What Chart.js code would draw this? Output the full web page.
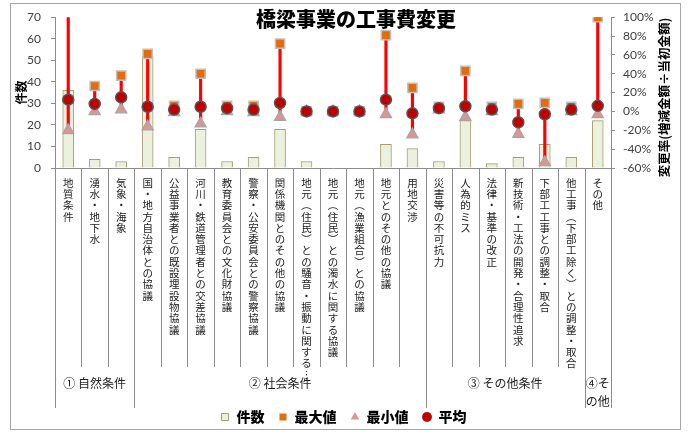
<!DOCTYPE html>
<html lang="ja">
<head>
<meta charset="utf-8">
<title>橋梁事業の工事費変更</title>
<script src="https://cdn.jsdelivr.net/npm/chart.js@4.4.1/dist/chart.umd.min.js"></script>
<style>
  html, body { margin: 0; padding: 0; background: #fff; }
  #wrap { width: 688px; height: 432px; position: relative; }
</style>
</head>
<body>
<div id="wrap"><canvas id="chart"></canvas></div>
<script>
// 変更理由（カテゴリ）
const categories = [
  '地質条件', '湧水・地下水', '気象・海象',
  '国・地方自治体との協議', '公益事業者との既設埋設物協議', '河川・鉄道管理者との交差協議',
  '教育委員会との文化財協議', '警察・公安委員会との警察協議', '関係機関とのその他の協議',
  '地元（住民）との騒音・振動に関する…', '地元（住民）との濁水に関する協議', '地元（漁業組合）との協議',
  '地元とのその他の協議', '用地交渉',
  '災害等の不可抗力', '人為的ミス', '法律・基準の改正', '新技術・工法の開発・合理性追求',
  '下部工工事との調整・取合', '他工事（下部工除く）との調整・取合',
  'その他'
];
// 件数
const counts = [36, 4, 3, 52, 5, 18, 3, 5, 18, 3, 0, 0, 11, 9, 3, 22, 2, 5, 11, 5, 22];
// 変更率（%）
const maxRate = [150, 27, 38, 61, 6, 40, 6, 6, 72, 0, 0, 0, 81, 25, 5, 43, 5, 8, 9, 5, 100];
const minRate = [-20, 0, 2, -16, -1, -13, 0, -1, -6, 0, 0, 0, -3, -24.5, 2, -6, 0, -24, -54, 0, -3];
const avgRate = [12.5, 8, 15, 5, 2, 5, 3.5, 2, 9, 0, 0, 0, 12.5, -2, 3.5, 5.5, 2, -11.5, -3, 2, 6];
// 大分類
const groupNames = [['① 自然条件'], ['② 社会条件'], ['③ その他条件'], ['④そ', 'の他']];
const groupSizes = [3, 11, 6, 1];

// 縦書き用の文字
const verticalForm = { '（': '︵', '）': '︶', '…': '︙' };
const verticalLabels = categories.map(s => Array.from(s).map(c => verticalForm[c] || c));

const axisGray = '#8c8c8c';
const jpFont = '"Noto Sans CJK JP", "Noto Sans", sans-serif';
const numFont = 'Lato, "Open Sans", sans-serif';

const decor = {
  id: 'decor',
  beforeDraw(chart) {
    const { ctx, width, height } = chart;
    ctx.save();
    ctx.fillStyle = '#fff';
    ctx.fillRect(0, 0, width, height);
    ctx.restore();
  },
  afterDraw(chart) {
    const { ctx, chartArea } = chart;
    const x = chart.scales.x;
    const step = x.getPixelForValue(1) - x.getPixelForValue(0);
    const edge = i => x.getPixelForValue(i) - step / 2;

    const groupEdges = [0];
    groupSizes.forEach(n => groupEdges.push(groupEdges[groupEdges.length - 1] + n));

    ctx.save();
    ctx.strokeStyle = axisGray;
    ctx.lineWidth = 1;
    for (let i = 0; i <= categories.length; i++) {
      const px = Math.round(edge(i)) + 0.5;
      ctx.beginPath();
      ctx.moveTo(px, chartArea.bottom);
      ctx.lineTo(px, groupEdges.includes(i) ? 408 : 367);
      ctx.stroke();
    }

    // 大分類ラベル
    ctx.fillStyle = '#222';
    ctx.font = '12px ' + jpFont;
    ctx.textAlign = 'center';
    ctx.textBaseline = 'middle';
    groupNames.forEach((lines, g) => {
      const cx = (edge(groupEdges[g]) + edge(groupEdges[g + 1])) / 2;
      lines.forEach((t, k) => ctx.fillText(t, cx, 383 + k * 18.5));
    });

    // タイトル
    ctx.fillStyle = '#000';
    ctx.font = '900 20px ' + jpFont;
    ctx.fillText('橋梁事業の工事費変更', 356, 19);

    // 右軸タイトル
    const y2 = chart.scales.y2;
    ctx.translate(664, (y2.top + y2.bottom) / 2 + 5);
    ctx.rotate(-Math.PI / 2);
    ctx.font = 'bold 12.5px ' + jpFont;
    ctx.fillText('変更率(増減金額÷当初金額)', 0, 0);
    ctx.setTransform(1, 0, 0, 1, 0, 0);

    // 外枠
    ctx.strokeStyle = '#a6a6a6';
    ctx.strokeRect(10.5, 3.5, 670, 426);
    ctx.restore();
  }
};

new Chart(document.getElementById('chart'), {
  data: {
    labels: verticalLabels,
    datasets: [
      {
        type: 'line', label: '平均', data: avgRate, yAxisID: 'y2', showLine: false,
        pointStyle: 'circle', pointRadius: 5.5,
        pointBackgroundColor: '#C00000', pointBorderColor: '#555', pointBorderWidth: 1.5
      },
      {
        type: 'line', label: '最小値', data: minRate, yAxisID: 'y2', showLine: false,
        pointStyle: 'triangle', pointRadius: 6.5,
        pointBackgroundColor: '#DA9694', pointBorderColor: '#a6a6a6', pointBorderWidth: 1.2
      },
      {
        type: 'line', label: '最大値', data: maxRate, yAxisID: 'y2', showLine: false,
        pointStyle: 'rect', pointRadius: 6.5,
        pointBackgroundColor: '#E46C0A', pointBorderColor: '#bfbfbf', pointBorderWidth: 1.5
      },
      {
        type: 'bar', label: '', data: minRate.map((v, i) => [v, maxRate[i]]), yAxisID: 'y2',
        backgroundColor: '#FF0000', barThickness: 2.5, grouped: false
      },
      {
        type: 'bar', label: '件数', data: counts, yAxisID: 'y',
        backgroundColor: '#EBF1DE', borderColor: '#A59E6E', borderWidth: 1,
        barThickness: 11, grouped: false, pointStyle: 'rect'
      }
    ]
  },
  options: {
    responsive: true,
    maintainAspectRatio: false,
    animation: false,
    events: [],
    layout: { padding: { left: 10, right: 11, top: 16, bottom: -2 } },
    plugins: {
      legend: {
        position: 'bottom',
        labels: {
          usePointStyle: true,
          boxWidth: 9,
          boxHeight: 7,
          padding: 14,
          color: '#000',
          font: { family: jpFont, size: 14, weight: '900', lineHeight: 1 },
          filter: item => item.text !== '',
          sort: (a, b) => b.datasetIndex - a.datasetIndex,
          generateLabels: chart => Chart.defaults.plugins.legend.labels.generateLabels(chart)
            .map(item => ({ ...item, lineWidth: item.text === '件数' ? 1 : 0 }))
        }
      },
      tooltip: { enabled: false }
    },
    scales: {
      x: {
        grid: { display: false, drawTicks: false },
        border: { color: axisGray },
        ticks: {
          autoSkip: false, maxRotation: 0, minRotation: 0, padding: 9,
          color: '#222',
          font: { family: jpFont, size: 10.5, lineHeight: '11.3px' }
        },
        afterFit: s => { s.height = 228; }
      },
      y: {
        position: 'left', min: 0, max: 70,
        grid: { drawOnChartArea: false, tickLength: 4, color: axisGray },
        border: { color: axisGray },
        ticks: { stepSize: 10, padding: 10, color: '#404040', font: { family: numFont, size: 12 } },
        title: { display: true, text: '件数', color: '#000', font: { family: jpFont, size: 12, weight: 'bold' } },
        afterFit: s => { s.width = 45; }
      },
      y2: {
        position: 'right', min: -60, max: 100,
        grid: { drawOnChartArea: false, tickLength: 4, color: axisGray },
        border: { color: axisGray },
        ticks: {
          stepSize: 20, padding: 8, color: '#404040', font: { family: numFont, size: 12 },
          callback: v => v + '%'
        },
        afterFit: s => { s.width = 66; }
      }
    }
  },
  plugins: [decor]
});
</script>
</body>
</html>
